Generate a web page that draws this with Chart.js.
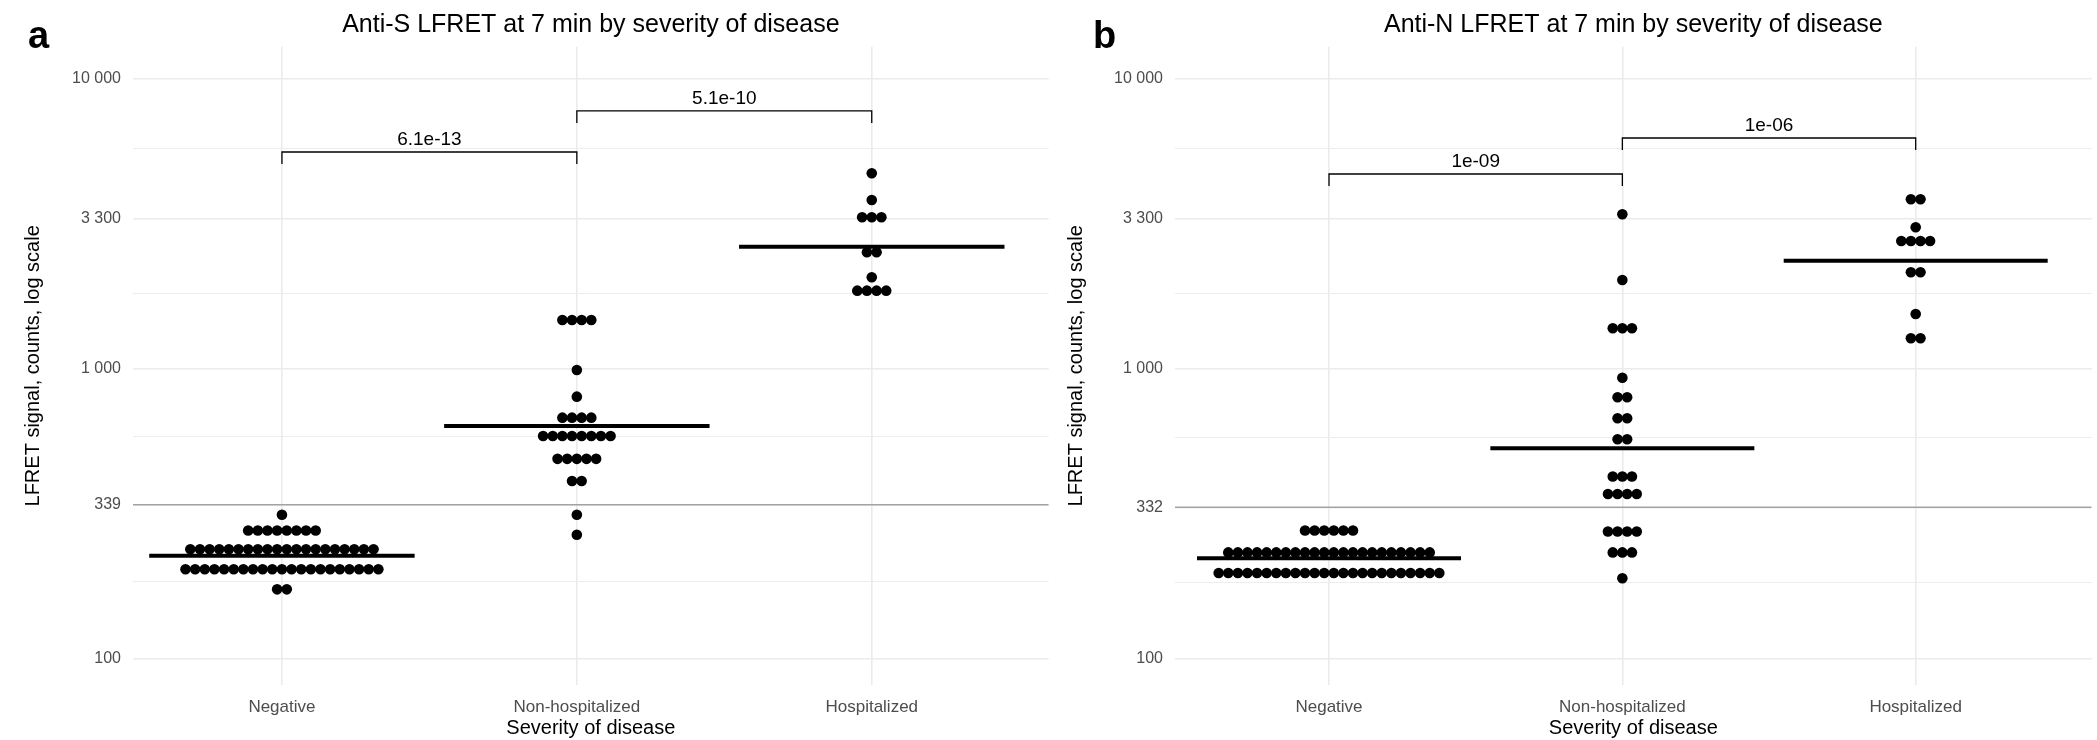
<!DOCTYPE html>
<html>
<head>
<meta charset="utf-8">
<script src="https://cdn.jsdelivr.net/npm/chart.js@4.4.0/dist/chart.umd.min.js"></script>
<style>
  html, body { margin: 0; padding: 0; background: #fff; }
  #wrap { position: relative; width: 2097px; height: 740px; overflow: hidden; }
  canvas { position: absolute; top: 0; }
  #chartA { left: 0; }
  #chartB { left: 1054px; }
</style>
</head>
<body>
<div id="wrap">
  <canvas id="chartA" width="1054" height="740"></canvas>
  <canvas id="chartB" width="1043" height="740"></canvas>
</div>
<script>
const categories = ['Negative', 'Non-hospitalized', 'Hospitalized'];

// Anti-S (panel a): each dot row = one value, with how many dots sit on it
const sNegRows = [173, 203, 238, 276, 313];
const sNegCounts = [2, 21, 20, 8, 1];
const sNonRows = [267, 313, 409, 488, 585, 677, 800, 989, 1471];
const sNonCounts = [1, 1, 2, 5, 8, 4, 1, 1, 4];
const sHosRows = [1857, 2065, 2519, 3327, 3818, 4720];
const sHosCounts = [4, 1, 2, 3, 1, 1];
const sMedians = [226, 634, 2634];
const sCutoff = 339;
const sTicks = [100, 339, 1000, 3300, 10000];
const sPLabels = ['6.1e-13', '5.1e-10'];
const sPHeights = [5590, 7745];

// Anti-N (panel b)
const nNegRows = [197, 232, 276];
const nNegCounts = [24, 22, 6];
const nNonRows = [189, 232, 274, 369, 424, 570, 674, 796, 930, 1377, 2021, 3407];
const nNonCounts = [1, 3, 4, 4, 3, 2, 2, 2, 1, 3, 1, 1];
const nHosRows = [1272, 1543, 2149, 2756, 3073, 3839];
const nHosCounts = [2, 1, 2, 4, 1, 2];
const nMedians = [221.5, 531, 2357];
const nCutoff = 332;
const nTicks = [100, 332, 1000, 3300, 10000];
const nPLabels = ['1e-09', '1e-06'];
const nPHeights = [4694, 6247];

const pairs = [[1, 2], [2, 3]];

const FONT = "'Liberation Sans', Arial, sans-serif";
Chart.defaults.font.family = FONT;

const dotStep = 0.0327;   // horizontal spacing of stacked dots, in x units
const tipRatio = 1.1;     // bracket tip length on the log axis

function fmt(v) {
    return String(v).replace(/\B(?=(\d{3})+(?!\d))/g, ' ');
}

function buildDots(rowsList, countsList) {
    const pts = [];
    rowsList.forEach((rows, g) => {
        rows.forEach((val, r) => {
            const n = countsList[g][r];
            for (let i = 0; i < n; i++) {
                pts.push({ x: g + 1 + (i - (n - 1) / 2) * dotStep, y: val });
            }
        });
    });
    return pts;
}

function minorTicks(major) {
    const out = [];
    for (let i = 0; i < major.length - 1; i++) out.push(Math.sqrt(major[i] * major[i + 1]));
    return out;
}

function makeChart(id, o) {
    const datasets = [];
    // cutoff line
    datasets.push({
        data: [{ x: o.xMin, y: o.cutoff }, { x: 3.6, y: o.cutoff }],
        showLine: true, borderColor: '#a3a3a3', borderWidth: 1.5, pointRadius: 0
    });
    // dots
    datasets.push({
        data: buildDots(o.rows, o.counts),
        pointRadius: 5.3, pointBackgroundColor: '#000', pointBorderWidth: 0, showLine: false
    });
    // median bars
    o.medians.forEach((m, g) => {
        datasets.push({
            data: [{ x: g + 0.55, y: m }, { x: g + 1.45, y: m }],
            showLine: true, borderColor: '#000', borderWidth: 4, pointRadius: 0
        });
    });
    // significance brackets
    pairs.forEach((p, k) => {
        const h = o.pHeights[k];
        datasets.push({
            data: [{ x: p[0], y: h / tipRatio }, { x: p[0], y: h }, { x: p[1], y: h }, { x: p[1], y: h / tipRatio }],
            showLine: true, borderColor: '#000', borderWidth: 1.3, pointRadius: 0
        });
    });

    const allTicks = o.ticks.concat(minorTicks(o.ticks)).sort((a, b) => a - b);

    const labelPlugin = {
        id: 'labels_' + id,
        afterDatasetsDraw(chart) {
            const ctx = chart.ctx;
            const xs = chart.scales.x, ys = chart.scales.y;
            ctx.save();
            ctx.fillStyle = '#000';
            ctx.font = '19px ' + FONT;
            ctx.textAlign = 'center';
            ctx.textBaseline = 'alphabetic';
            pairs.forEach((p, k) => {
                const px = xs.getPixelForValue((p[0] + p[1]) / 2);
                const py = ys.getPixelForValue(o.pHeights[k]);
                ctx.fillText(o.pLabels[k], px, py - 7);
            });
            ctx.font = 'bold 38px ' + FONT;
            ctx.textAlign = 'left';
            ctx.fillText(o.letter, o.letterX, 48);
            ctx.restore();
        }
    };

    return new Chart(document.getElementById(id), {
        type: 'scatter',
        data: { datasets },
        options: {
            responsive: false,
            animation: false,
            devicePixelRatio: 1,
            layout: { padding: { left: 0, right: o.padRight, top: 0, bottom: 0 } },
            plugins: {
                legend: { display: false },
                tooltip: { enabled: false },
                title: {
                    display: true,
                    text: o.title,
                    color: '#000',
                    font: { size: 25, weight: 'normal' },
                    padding: { top: 10, bottom: 6.7 },
                    fullSize: false
                }
            },
            scales: {
                x: {
                    type: 'linear',
                    min: o.xMin,
                    max: 3.6,
                    afterBuildTicks: (scale) => {
                        scale.ticks = categories.map((c, i) => ({ value: i + 1 }));
                    },
                    afterFit: (scale) => { scale.height = 55; },
                    ticks: {
                        callback: (v) => categories[v - 1] || '',
                        color: '#4d4d4d',
                        font: { size: 17 },
                        padding: 12,
                        maxRotation: 0
                    },
                    grid: { color: '#ebebeb', lineWidth: 1.6, drawTicks: false },
                    border: { display: false },
                    title: {
                        display: true,
                        text: 'Severity of disease',
                        color: '#000',
                        font: { size: 20 },
                        padding: { top: 0, bottom: 0 }
                    }
                },
                y: {
                    type: 'logarithmic',
                    min: 80.9,
                    max: 12906,
                    afterBuildTicks: (scale) => {
                        scale.ticks = allTicks.map(v => ({ value: v }));
                    },
                    afterFit: (scale) => { scale.width = o.axisWidth; },
                    ticks: {
                        callback: (v) => o.ticks.includes(v) ? fmt(v) : '',
                        color: '#4d4d4d',
                        font: { size: 16 },
                        padding: 12,
                        autoSkip: false
                    },
                    grid: {
                        color: '#ebebeb',
                        lineWidth: (ctx) => (ctx.tick && o.ticks.includes(ctx.tick.value)) ? 1.6 : 0.9,
                        drawTicks: false
                    },
                    border: { display: false },
                    title: {
                        display: true,
                        text: 'LFRET signal, counts, log scale',
                        color: '#000',
                        font: { size: 20 },
                        padding: { top: o.yTitlePad, bottom: 0 }
                    }
                }
            }
        },
        plugins: [labelPlugin]
    });
}

makeChart('chartA', {
    title: 'Anti-S LFRET at 7 min by severity of disease',
    letter: 'a', letterX: 28,
    rows: [sNegRows, sNonRows, sHosRows],
    counts: [sNegCounts, sNonCounts, sHosCounts],
    medians: sMedians, cutoff: sCutoff, ticks: sTicks,
    pLabels: sPLabels, pHeights: sPHeights,
    axisWidth: 133, xMin: 0.495, yTitlePad: 21, padRight: 2
});

makeChart('chartB', {
    title: 'Anti-N LFRET at 7 min by severity of disease',
    letter: 'b', letterX: 39,
    rows: [nNegRows, nNonRows, nHosRows],
    counts: [nNegCounts, nNonCounts, nHosCounts],
    medians: nMedians, cutoff: nCutoff, ticks: nTicks,
    pLabels: nPLabels, pHeights: nPHeights,
    axisWidth: 121, xMin: 0.475, yTitlePad: 10, padRight: 0
});
</script>
</body>
</html>
